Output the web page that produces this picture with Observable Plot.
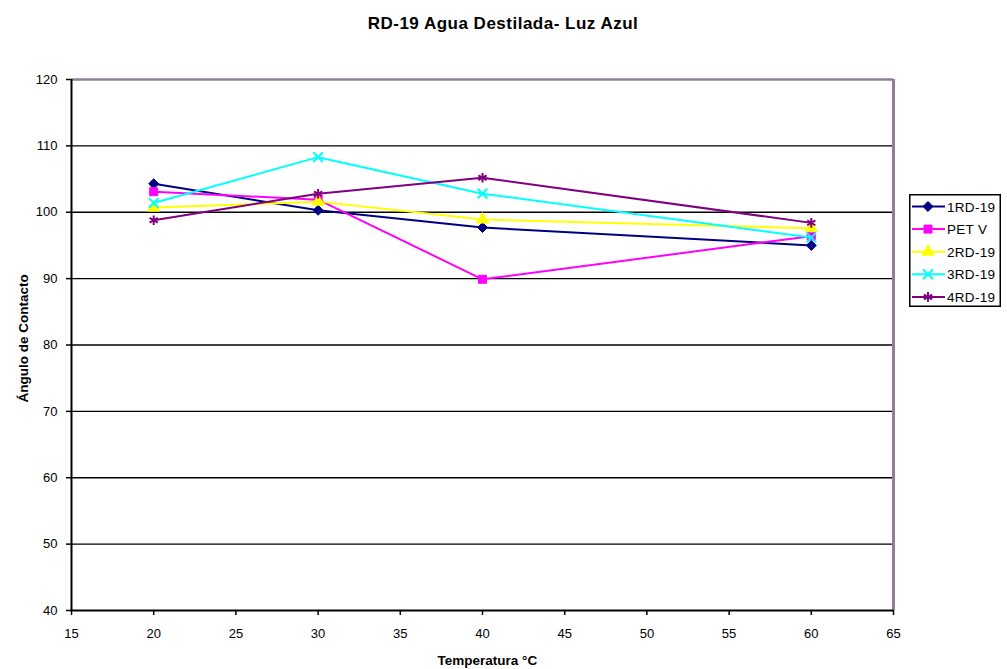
<!DOCTYPE html>
<html><head><meta charset="utf-8">
<script src="https://cdn.jsdelivr.net/npm/d3@7"></script>
<script src="https://cdn.jsdelivr.net/npm/@observablehq/plot@0.6"></script>
<style>
body{margin:0;background:#fff;font-family:"Liberation Sans",Arial,sans-serif;}
#wrap{position:relative;width:1007px;height:669px;}
#title{position:absolute;left:0;top:14px;width:1006px;text-align:center;font-weight:bold;font-size:17px;line-height:1.2;letter-spacing:0.5px;}
#legend{position:absolute;left:909px;top:194px;}
</style></head>
<body><div id="wrap"><div id="chart"></div><div id="title">RD-19 Agua Destilada- Luz Azul</div><div id="legend"></div></div>
<script>
const temps = [20, 30, 40, 60];
const seriesNames = ["1RD-19", "PET V", "2RD-19", "3RD-19", "4RD-19"];
const s1RD19 = [104.3, 100.3, 97.7, 95.0];
const sPETV = [103.1, 101.9, 89.9, 96.4];
const s2RD19 = [100.7, 101.6, 98.9, 97.6];
const s3RD19 = [101.4, 108.3, 102.8, 96.2];
const s4RD19 = [98.8, 102.8, 105.2, 98.4];
const xTicks = [15, 20, 25, 30, 35, 40, 45, 50, 55, 60, 65];
const yTicks = [40, 50, 60, 70, 80, 90, 100, 110, 120];
const colors = ["#000080", "#FF00FF", "#FFFF00", "#00FFFF", "#800080"];
const symbols = ["diamond2", "square", "triangle", "times", "asterisk"];
const filled = [true, true, true, false, false];

const allValues = [s1RD19, sPETV, s2RD19, s3RD19, s4RD19];
const data = [];
seriesNames.forEach((n, i) => temps.forEach((t, j) => data.push({series: n, t, v: allValues[i][j], i})));

const marks = [
  Plot.ruleY(yTicks.filter(d => d > 40 && d < 120), {stroke: "#000", strokeWidth: 1.4}),
  Plot.ruleY([120], {stroke: "#8f7f97", strokeWidth: 2.5}),
  Plot.ruleX([65], {stroke: "#8f7f97", strokeWidth: 3}),
  Plot.ruleX([15], {stroke: "#000", strokeWidth: 2}),
  Plot.ruleY([40], {stroke: "#000", strokeWidth: 2}),
  Plot.axisX({ticks: xTicks, tickSize: 5, tickPadding: 13, fontSize: 13, label: null, tickFormat: d => d, strokeWidth: 1.5}),
  Plot.axisY({ticks: yTicks, tickSize: 5, tickPadding: 9, fontSize: 13, label: null, tickFormat: d => d, strokeWidth: 1.5}),
  Plot.text(["Temperatura °C"], {x: 40.3, frameAnchor: "bottom", lineAnchor: "middle", textAnchor: "middle", dy: 50, fontWeight: "bold", fontSize: 13.5, letterSpacing: 0.4}),
  Plot.text(["Ángulo de Contacto"], {y: 81, frameAnchor: "left", textAnchor: "middle", lineAnchor: "middle", dx: -48, rotate: -90, fontWeight: "bold", fontSize: 13.5, letterSpacing: 0.4})
];
seriesNames.forEach((n, i) => {
  const d = data.filter(r => r.i === i);
  marks.push(Plot.line(d, {x: "t", y: "v", stroke: colors[i], strokeWidth: 2}));
  marks.push(Plot.dot(d, {x: "t", y: "v", symbol: () => symbols[i], r: 4.5,
    fill: filled[i] ? colors[i] : "none", stroke: colors[i], strokeWidth: filled[i] ? 1 : 2}));
});

const chart = Plot.plot({
  width: 1007, height: 669,
  marginLeft: 71, marginRight: 114, marginTop: 79, marginBottom: 59,
  style: {fontFamily: "'Liberation Sans', Arial, sans-serif", fontSize: "13px", color: "#000", background: "#fff"},
  x: {domain: [15, 65]},
  y: {domain: [40, 120]},
  marks
});
document.getElementById("chart").appendChild(chart);

// legend
const lw = 92, lh = 113;
const svg = d3.select("#legend").append("svg").attr("width", lw).attr("height", lh);
svg.append("rect").attr("x", 0.75).attr("y", 0.75).attr("width", lw - 1.5).attr("height", lh - 1.5).attr("fill", "#fff").attr("stroke", "#000").attr("stroke-width", 1.5);
const symMap = {diamond2: d3.symbolDiamond2, square: d3.symbolSquare, triangle: d3.symbolTriangle, times: d3.symbolTimes, asterisk: d3.symbolAsterisk};
seriesNames.forEach((n, i) => {
  const y = 12.5 + i * 22.6;
  svg.append("line").attr("x1", 3).attr("x2", 36).attr("y1", y).attr("y2", y).attr("stroke", colors[i]).attr("stroke-width", 2);
  svg.append("path").attr("d", d3.symbol(symMap[symbols[i]], 64)()).attr("transform", `translate(19,${y})`)
    .attr("fill", filled[i] ? colors[i] : "none").attr("stroke", colors[i]).attr("stroke-width", filled[i] ? 1 : 2);
  svg.append("text").attr("x", 38).attr("y", y + 5).attr("font-size", 13.5).attr("letter-spacing", 0.3)
    .attr("font-family", "'Liberation Sans', Arial, sans-serif").text(n);
});
</script></body></html>
